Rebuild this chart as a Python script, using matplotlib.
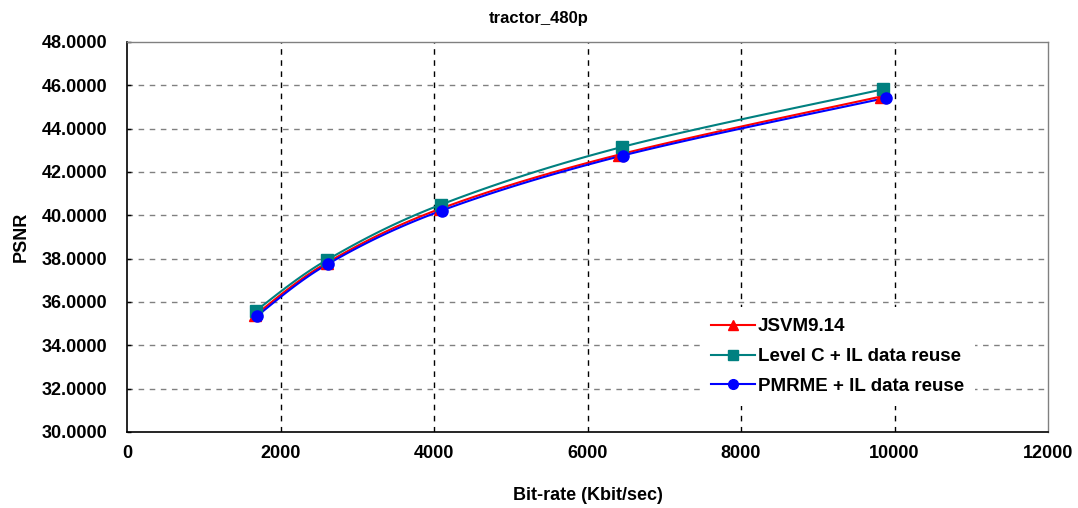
import numpy as np
import matplotlib
matplotlib.use("Agg")
import matplotlib.pyplot as plt

plt.rcParams['font.family'] = ['Liberation Sans', 'DejaVu Sans']
plt.rcParams['font.weight'] = 'bold'

title = "tractor_480p"
series_names = ["JSVM9.14", "Level C + IL data reuse", "PMRME + IL data reuse"]

jsvm_rate = [1670, 2600, 4080, 6410, 9820]
jsvm_psnr = [35.40, 37.80, 40.30, 42.80, 45.48]

levelc_rate = [1680, 2610, 4095, 6445, 9852]
levelc_psnr = [35.60, 37.95, 40.50, 43.15, 45.82]

pmrme_rate = [1690, 2615, 4100, 6460, 9887]
pmrme_psnr = [35.35, 37.75, 40.22, 42.76, 45.42]

colors = ["#FF0000", "#008080", "#0000FF"]
markers = ["^", "s", "o"]

x_ticks = [0, 2000, 4000, 6000, 8000, 10000, 12000]
y_ticks = [30, 32, 34, 36, 38, 40, 42, 44, 46, 48]


def smooth(xs, ys, n=30):
    """Catmull-Rom curve through the points, like a smoothed line chart."""
    p = np.column_stack([xs, ys]).astype(float)
    sx = (max(xs) - min(xs)) or 1.0
    sy = (max(ys) - min(ys)) or 1.0
    q = p / [sx, sy]
    q = np.vstack([q[0], q, q[-1]])
    out = []
    t = np.linspace(0, 1, n)[:, None]
    for i in range(1, len(q) - 2):
        p0, p1, p2, p3 = q[i - 1], q[i], q[i + 1], q[i + 2]
        m1 = (p2 - p0) / 6.0
        m2 = (p3 - p1) / 6.0
        b0, b1, b2, b3 = p1, p1 + m1, p2 - m2, p2
        seg = ((1 - t) ** 3) * b0 + 3 * ((1 - t) ** 2) * t * b1 + 3 * (1 - t) * t ** 2 * b2 + t ** 3 * b3
        out.append(seg if i == 1 else seg[1:])
    c = np.vstack(out) * [sx, sy]
    return c[:, 0], c[:, 1]


fig = plt.figure(figsize=(10.78, 5.08), dpi=100)
ax = fig.add_axes([127 / 1078, 1 - 432 / 508, (1048 - 127) / 1078, (432 - 42) / 508])

data = [(jsvm_rate, jsvm_psnr), (levelc_rate, levelc_psnr), (pmrme_rate, pmrme_psnr)]
handles = []
for (xr, yr), name, col, mk in zip(data, series_names, colors, markers):
    sx, sy = smooth(xr, yr)
    ax.plot(sx, sy, color=col, lw=1.5, zorder=3)
    ax.plot(xr, yr, ls='none', marker=mk, color=col, markersize=8,
            markeredgecolor=col, zorder=4)
    h, = ax.plot([], [], color=col, lw=1.5, marker=mk, markersize=7, label=name)
    handles.append(h)

ax.set_xlim(0, 12000)
ax.set_ylim(30, 48)
ax.set_xticks(x_ticks)
ax.set_yticks(y_ticks)
ax.set_xticklabels([str(v) for v in x_ticks], fontsize=13, fontweight='bold')
ax.set_yticklabels([f"{v:.4f}" for v in y_ticks], fontsize=13, fontweight='bold')
ax.tick_params(axis='y', direction='in', length=3, width=1, pad=14)
ax.tick_params(axis='x', length=0, pad=9)

# grid: black dashes vertically, grey dashes horizontally
for xv in x_ticks[1:-1]:
    ax.axvline(xv, color='black', lw=1, ls=(0, (4, 4)), zorder=1)
for yv in y_ticks[1:-1]:
    ax.axhline(yv, color='#808080', lw=1, ls=(0, (4, 4)), zorder=1)

for side in ['left', 'bottom']:
    ax.spines[side].set_color('black')
    ax.spines[side].set_linewidth(1.2)
for side in ['top', 'right']:
    ax.spines[side].set_color('#808080')
    ax.spines[side].set_linewidth(1.0)

fig.text(0.5, 1 - 18 / 508, title, fontsize=12, fontweight='bold', ha='center', va='center')
ax.set_xlabel("Bit-rate (Kbit/sec)", fontsize=13, fontweight='bold', labelpad=18)
ax.set_ylabel("PSNR", fontsize=13, fontweight='bold', labelpad=9)

leg = ax.legend(handles=handles, loc='upper left', bbox_to_anchor=(0.612, 0.345),
                frameon=True, prop={'size': 13.5, 'weight': 'bold'},
                handlelength=2.35, handletextpad=0.12,
                labelspacing=0.68, borderpad=0.6, numpoints=1, fancybox=False)
leg.get_frame().set_edgecolor('none')
leg.get_frame().set_facecolor('white')
leg.get_frame().set_alpha(1.0)
leg.set_zorder(5)

fig.savefig("out.png", dpi=100)
